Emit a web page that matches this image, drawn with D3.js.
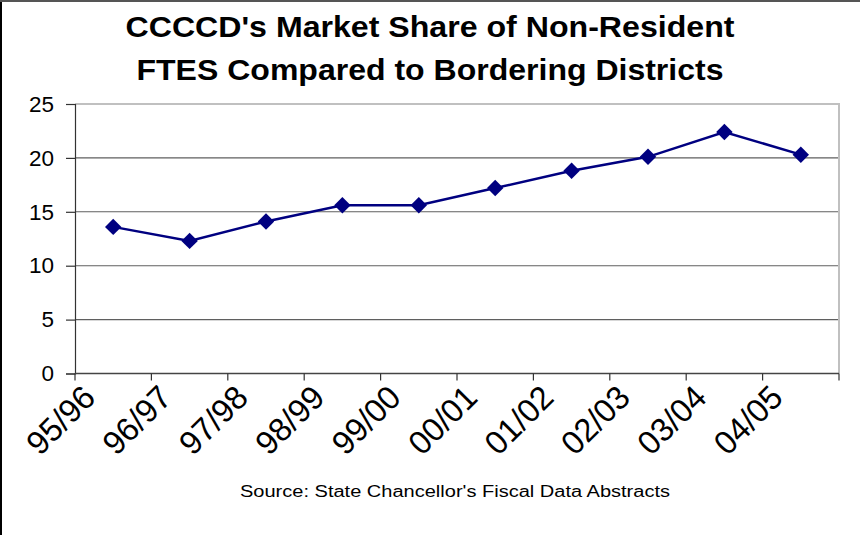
<!DOCTYPE html>
<html>
<head>
<meta charset="utf-8">
<script src="https://cdn.jsdelivr.net/npm/d3@7"></script>
<style>
  body { margin: 0; background: #fff; }
  text { font-family: "Liberation Sans", Arial, sans-serif; }
</style>
</head>
<body>
<svg id="chart" width="860" height="535"></svg>
<script>
const years = ['95/96', '96/97', '97/98', '98/99', '99/00', '00/01', '01/02', '02/03', '03/04', '04/05'];
const share = [13.6, 12.3, 14.1, 15.6, 15.6, 17.2, 18.8, 20.1, 22.4, 20.3];
const yTicks = [0, 5, 10, 15, 20, 25];
const titleLines = ["CCCCD's Market Share of Non-Resident", 'FTES Compared to Bordering Districts'];
const sourceNote = "Source: State Chancellor's Fiscal Data Abstracts";

const svg = d3.select('#chart');
const width = 860, height = 535;
const margin = { top: 104, right: 21, bottom: 161.5, left: 75 };
const plotW = width - margin.left - margin.right;
const plotH = height - margin.top - margin.bottom;

// outer frame: black left edge, grey top edge
svg.append('rect').attr('x', 0).attr('y', 0).attr('width', width).attr('height', height).attr('fill', '#fff');
svg.append('line').attr('x1', 1).attr('x2', 1).attr('y1', 0).attr('y2', height).attr('stroke', '#000').attr('stroke-width', 2);
svg.append('line').attr('x1', 0).attr('x2', width).attr('y1', 1).attr('y2', 1).attr('stroke', '#555').attr('stroke-width', 2);

// title
const titleWidths = [609, 587];
svg.selectAll('.title')
  .data(titleLines)
  .enter().append('text')
  .attr('class', 'title')
  .attr('x', 430)
  .attr('y', (d, i) => 37 + i * 43)
  .attr('text-anchor', 'middle')
  .attr('font-size', 29)
  .attr('font-weight', 'bold')
  .attr('textLength', (d, i) => titleWidths[i])
  .attr('lengthAdjust', 'spacingAndGlyphs')
  .text(d => d);

const x = d3.scaleBand().domain(years).range([0, plotW]);
const y = d3.scaleLinear().domain([0, 25]).range([plotH, 0]);

const g = svg.append('g').attr('transform', `translate(${margin.left},${margin.top})`);

// gridlines
g.selectAll('.grid')
  .data(yTicks.filter(t => t > 0 && t < 25))
  .enter().append('line')
  .attr('x1', 0).attr('x2', plotW)
  .attr('y1', d => y(d)).attr('y2', d => y(d))
  .attr('stroke', '#5f5f5f').attr('stroke-width', 1.1);

// plot border top/right
g.append('path')
  .attr('d', `M0,${y(25)}H${plotW}V${plotH}`)
  .attr('fill', 'none').attr('stroke', '#c0c0c0').attr('stroke-width', 2);

// y axis
const yAxis = g.append('g')
  .call(d3.axisLeft(y).tickValues(yTicks).tickSize(9).tickPadding(12));
yAxis.select('.domain').attr('stroke', '#333').attr('stroke-width', 1.2);
yAxis.selectAll('.tick line').attr('stroke', '#333').attr('stroke-width', 1.2);
yAxis.selectAll('.tick text').attr('font-size', 22.5).attr('fill', '#000')
  .attr('font-family', '"Liberation Sans", Arial, sans-serif');

// x axis: ticks at category boundaries
const bounds = d3.range(years.length + 1).map(i => i * x.step());
g.append('line')
  .attr('x1', 0).attr('x2', plotW).attr('y1', plotH).attr('y2', plotH)
  .attr('stroke', '#444').attr('stroke-width', 1.5);
g.selectAll('.xtick')
  .data(bounds)
  .enter().append('line')
  .attr('x1', d => d).attr('x2', d => d)
  .attr('y1', plotH).attr('y2', plotH + 7)
  .attr('stroke', '#333').attr('stroke-width', 1.2);

// rotated, slightly condensed category labels
g.selectAll('.xlabel')
  .data(years)
  .enter().append('text')
  .attr('class', 'xlabel')
  .attr('transform', d => `translate(${x(d) + x.bandwidth() / 2 - 16},${plotH + 26}) rotate(-45)`)
  .attr('text-anchor', 'end')
  .attr('font-size', 33)
  .attr('textLength', 81)
  .attr('lengthAdjust', 'spacingAndGlyphs')
  .text(d => d);

// series
const cx = d => x(d) + x.bandwidth() / 2;
const line = d3.line().x((d, i) => cx(years[i])).y(d => y(d));
g.append('path')
  .datum(share)
  .attr('d', line)
  .attr('fill', 'none')
  .attr('stroke', '#000080')
  .attr('stroke-width', 2.5);

const diamond = d3.symbol().type(d3.symbolSquare).size(135);
g.selectAll('.pt')
  .data(share)
  .enter().append('path')
  .attr('class', 'pt')
  .attr('d', diamond)
  .attr('transform', (d, i) => `translate(${cx(years[i])},${y(d)}) rotate(45)`)
  .attr('fill', '#000080');

// source note
svg.append('text')
  .attr('x', 455)
  .attr('y', 497)
  .attr('text-anchor', 'middle')
  .attr('font-size', 16)
  .attr('textLength', 430)
  .attr('lengthAdjust', 'spacingAndGlyphs')
  .text(sourceNote);
</script>
</body>
</html>
